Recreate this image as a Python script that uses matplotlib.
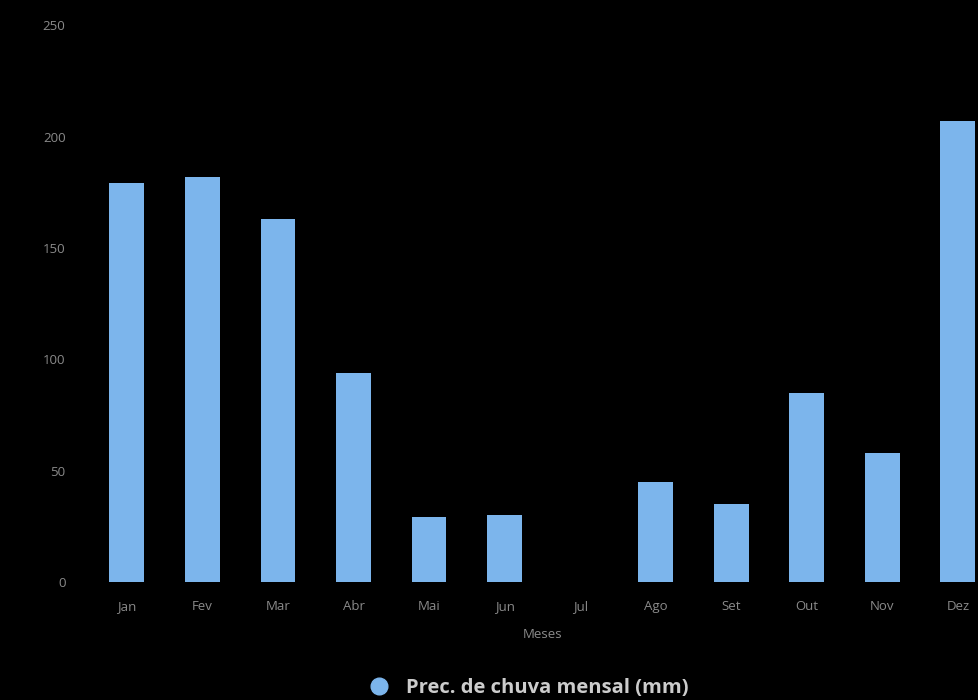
import matplotlib
matplotlib.use('Agg')
import matplotlib.pyplot as plt
from matplotlib.lines import Line2D

# dados
meses = ['Jan', 'Fev', 'Mar', 'Abr', 'Mai', 'Jun', 'Jul', 'Ago', 'Set', 'Out', 'Nov', 'Dez']
chuva = [179, 182, 163, 94, 29, 30, 0, 45, 35, 85, 58, 207]
yticks = [0, 50, 100, 150, 200, 250]

plt.rcParams['font.family'] = ['Open Sans', 'DejaVu Sans']

fig = plt.figure(figsize=(9.79, 7.0), dpi=100, facecolor='black')
ax = fig.add_axes([0.091, 0.1686, 0.926, 0.7954])
ax.set_facecolor('black')

x = range(len(meses))
ax.bar(x, chuva, width=0.46, color='#7cb5ec', zorder=2)

ax.set_xlim(-0.5, len(meses) - 0.5)
ax.set_ylim(0, 250)
ax.set_yticks(yticks)
ax.set_yticklabels([str(v) for v in yticks])
ax.set_xticks(list(x))
ax.set_xticklabels(meses)
ax.tick_params(colors='#8a8a8a', labelsize=9.5, length=0)
ax.tick_params(axis='y', pad=17)
ax.tick_params(axis='x', pad=13)
for s in ax.spines.values():
    s.set_visible(False)

ax.set_xlabel('Meses', color='#8a8a8a', fontsize=9.5, labelpad=11)

handle = Line2D([], [], marker='o', linestyle='', markersize=12,
                markerfacecolor='#7cb5ec', markeredgecolor='#7cb5ec')
leg = fig.legend([handle], ['Prec. de chuva mensal (mm)'], loc='center',
                 bbox_to_anchor=(0.535, 0.017), frameon=False, handletextpad=0.3,
                 prop={'size': 14.5, 'weight': 'bold'})
for t in leg.get_texts():
    t.set_color('#cccccc')

fig.savefig('out.png', dpi=100, facecolor='black')
